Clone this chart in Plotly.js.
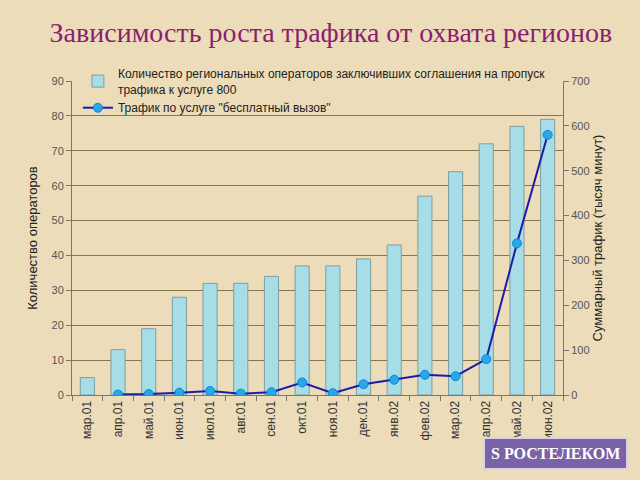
<!DOCTYPE html>
<html><head><meta charset="utf-8">
<script src="https://cdn.plot.ly/plotly-3.0.1.min.js"></script>
<style>html,body{margin:0;padding:0;background:#ecdcb9;}#chart{width:640px;height:480px;}</style>
</head><body><div id="chart"></div>
<script>
const months = ["мар.01","апр.01","май.01","июн.01","июл.01","авг.01","сен.01","окт.01","ноя.01","дек.01","янв.02","фев.02","мар.02","апр.02","май.02","июн.02"];
const operators = [5,13,19,28,32,32,34,37,37,39,43,57,64,72,77,79];
const trafficMonths = months.slice(1);
const traffic = [1,2,5,9,3,6,28,4,24,34,45,42,80,338,580];

const data = [
  {type:'bar', x:months, y:operators, name:'Количество региональных операторов заключивших соглашения на пропуск<br>трафика к услуге 800',
   marker:{color:'#a6dde6', line:{color:'#7f9ea4', width:1}}, width:0.46, yaxis:'y'},
  {type:'scatter', mode:'lines+markers', x:trafficMonths, y:traffic, name:'Трафик по услуге "бесплатный вызов"',
   line:{color:'#1c1ca8', width:2}, marker:{color:'#25a9ea', size:9, line:{color:'#1c7fd0', width:1}}, yaxis:'y2'}
];
const layout = {
  width:640, height:480,
  paper_bgcolor:'#ecdcb9', plot_bgcolor:'rgba(0,0,0,0)',
  margin:{l:72, r:77, t:81, b:85},
  title:{text:'Зависимость роста трафика от охвата регионов', x:0.517, xanchor:'center', y:0.933, yanchor:'middle',
         font:{family:'Liberation Serif, Times New Roman, serif', size:28, color:'#8a1f72'}},
  showlegend:true,
  legend:{x:0.012, y:1.07, xanchor:'left', yanchor:'top', bgcolor:'rgba(0,0,0,0)',
          font:{family:'Liberation Sans, Arial, sans-serif', size:12, color:'#222'}, tracegroupgap:0, itemwidth:30},
  xaxis:{type:'category', tickangle:-90, showline:true, linecolor:'#777', ticks:'outside', tickcolor:'#777', ticklen:5,
         tickson:'boundaries', showgrid:false, tickfont:{family:'Liberation Sans, Arial, sans-serif', size:12, color:'#333'}, range:[-0.5,15.5]},
  yaxis:{range:[0,90], dtick:10, showline:true, linecolor:'#777', ticks:'outside', tickcolor:'#777', ticklen:5,
         showgrid:true, gridcolor:'#86764f', gridwidth:1, zeroline:false,
         tickfont:{family:'Liberation Sans, Arial, sans-serif', size:11, color:'#555'},
         title:{text:'Количество операторов', font:{family:'Liberation Sans, Arial, sans-serif', size:13, color:'#222'}, standoff:10}},
  yaxis2:{range:[0,700], dtick:100, overlaying:'y', side:'right', showline:true, linecolor:'#777', ticks:'outside', tickcolor:'#777', ticklen:5,
          showgrid:false, zeroline:false, tickfont:{family:'Liberation Sans, Arial, sans-serif', size:11, color:'#555'},
          title:{text:'Суммарный трафик (тысяч минут)', font:{family:'Liberation Sans, Arial, sans-serif', size:13, color:'#222'}, standoff:4}},
  bargap:0.5,
  annotations:[{xref:'paper', yref:'paper', x:1.132, y:-0.185, xanchor:'right', yanchor:'middle', showarrow:false,
    text:'<b>S РОСТЕЛЕКОМ</b>', bgcolor:'#7a62a8', bordercolor:'#d8d0ec', borderwidth:2, borderpad:6,
    font:{family:'Liberation Serif, Times New Roman, serif', size:16, color:'#ffffff'}}]
};
Plotly.newPlot('chart', data, layout, {displayModeBar:false, staticPlot:true});
</script></body></html>
